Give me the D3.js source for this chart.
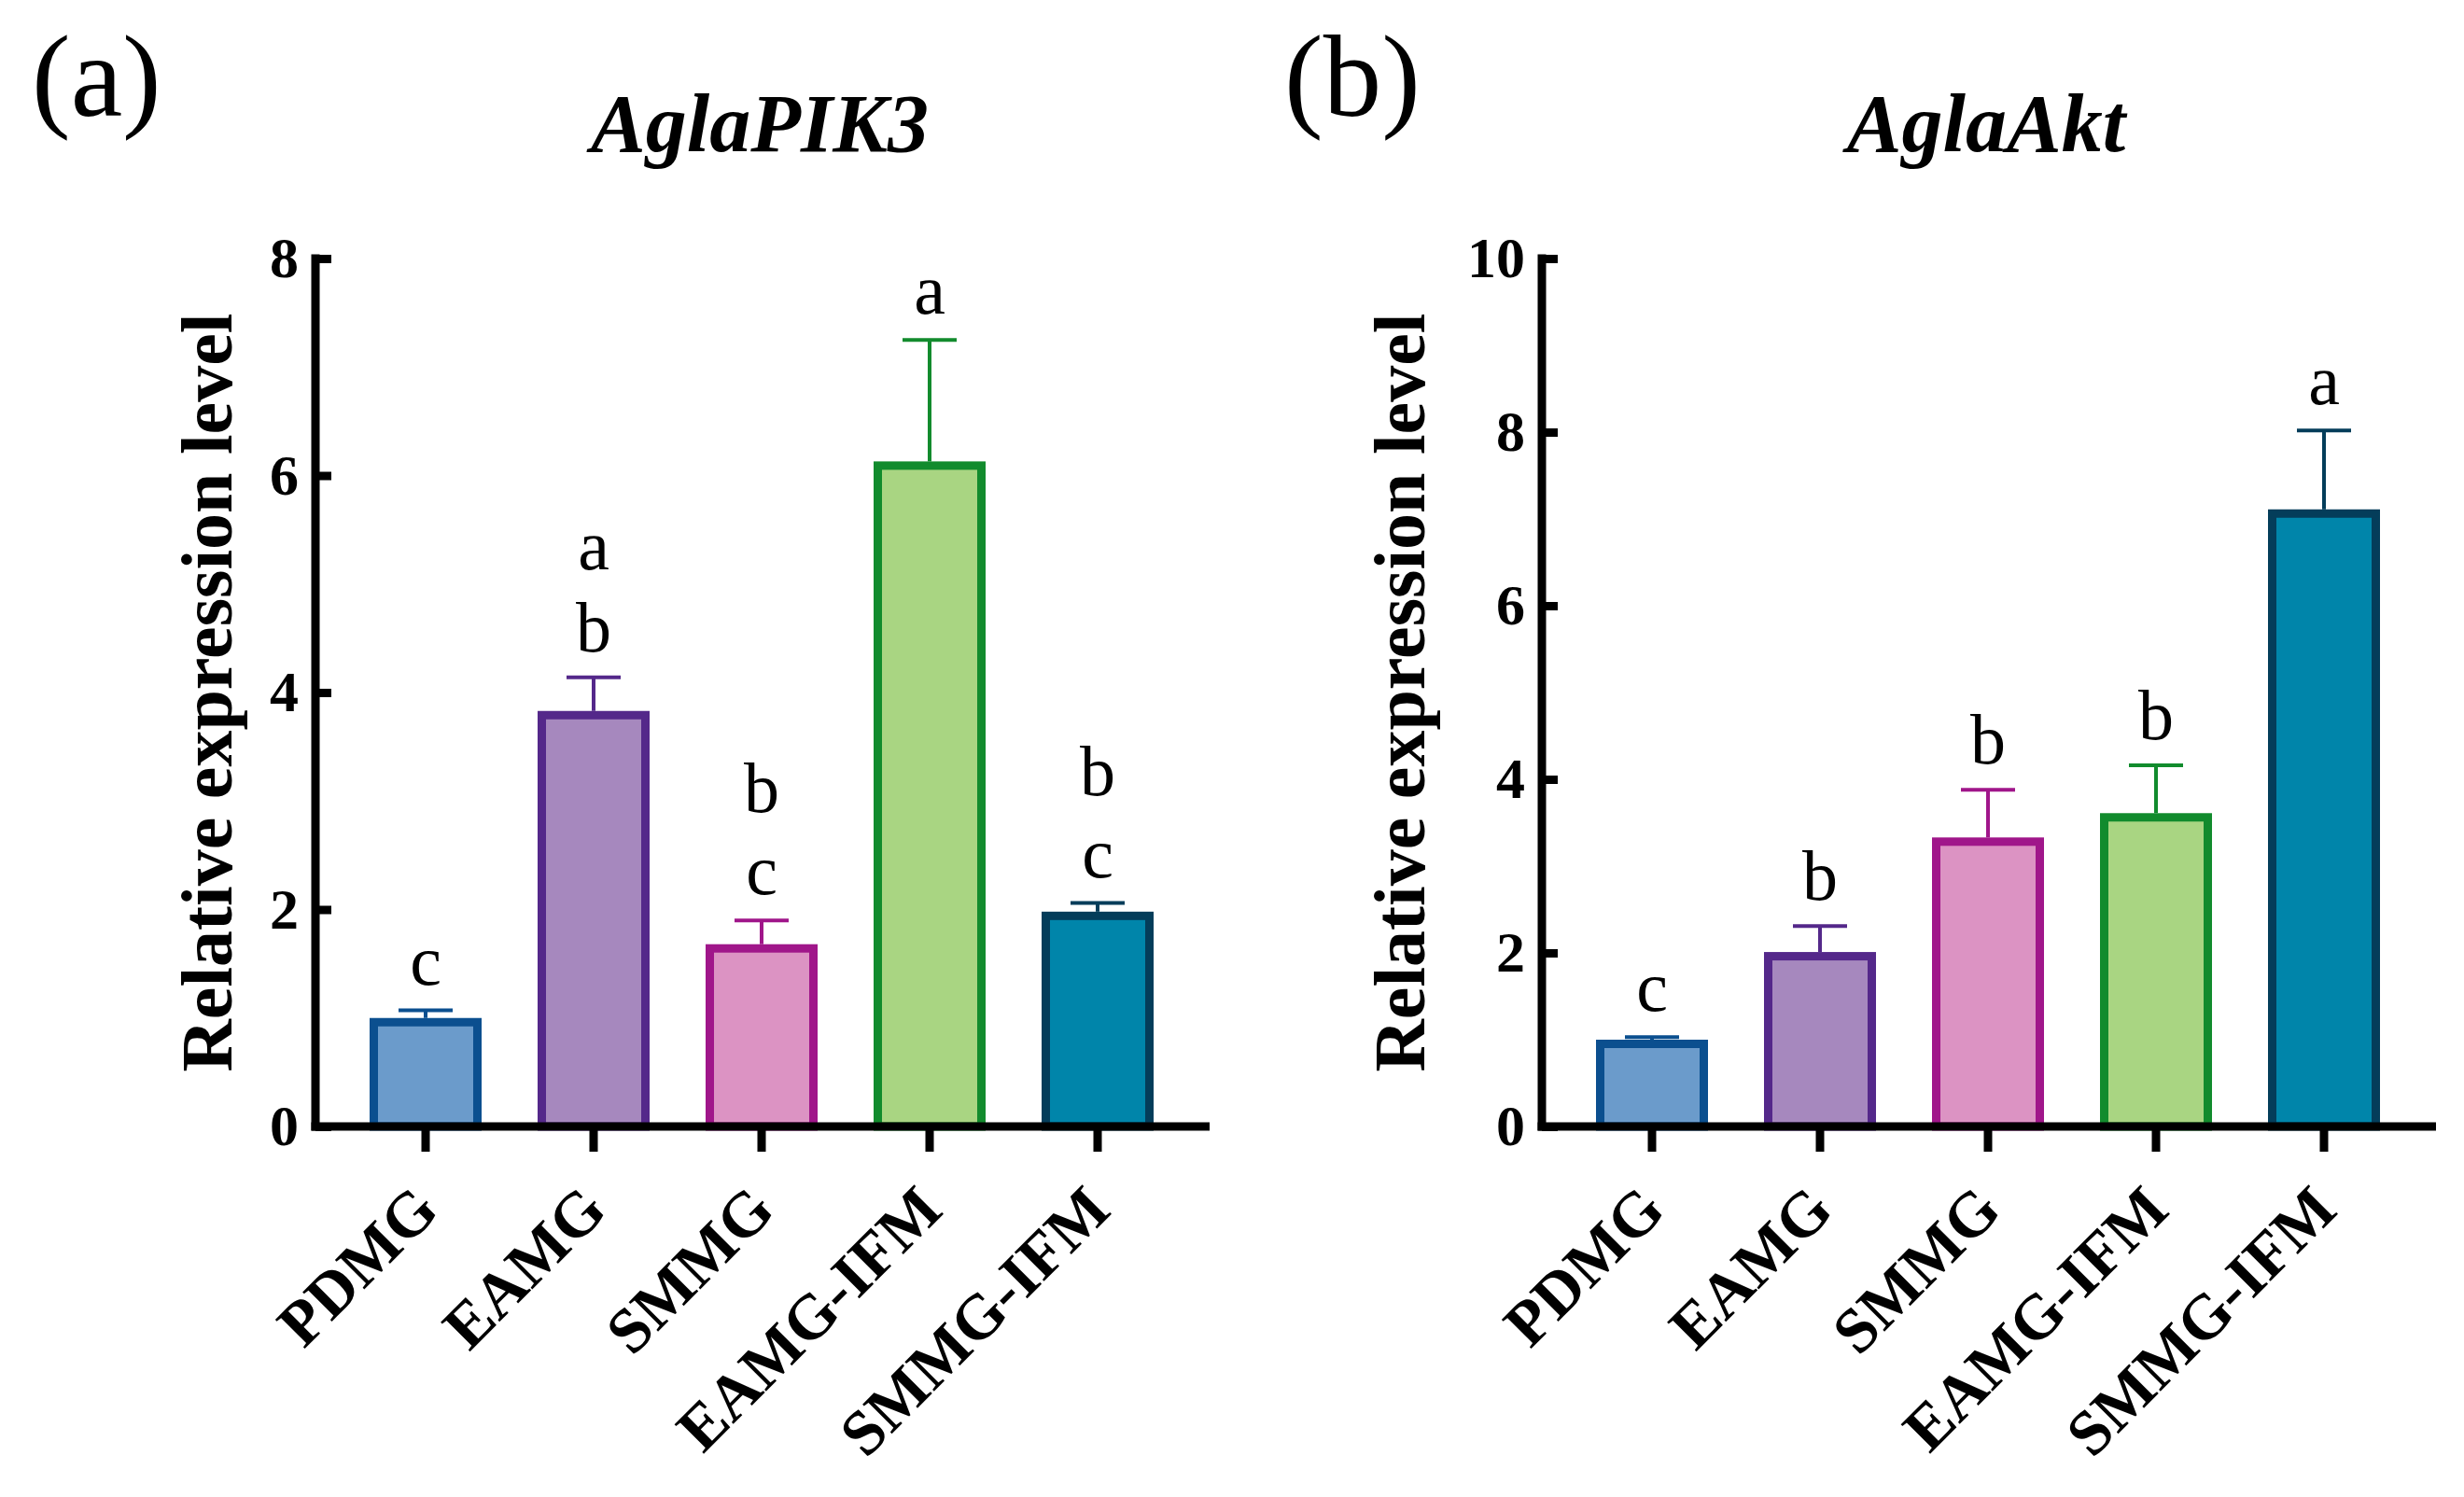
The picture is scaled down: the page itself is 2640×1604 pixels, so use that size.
<!DOCTYPE html>
<html>
<head>
<meta charset="utf-8">
<script src="https://cdn.jsdelivr.net/npm/d3@7"></script>
<style>
  body { margin: 0; background: #fff; }
  svg { display: block; }
</style>
</head>
<body>
<svg width="2640" height="1604"></svg>
<script>
// groups on the x axis (same for both panels)
const groups = ['PDMG', 'EAMG', 'SMMG', 'EAMG-IFM', 'SMMG-IFM'];

// panel (a) AglaPIK3
const pik3Mean = [1.0, 3.83, 1.68, 6.13, 1.98];
const pik3Err = [0.07, 0.31, 0.22, 1.12, 0.08];
const pik3Letters = [['c'], ['b', 'a'], ['c', 'b'], ['a'], ['c', 'b']];
const pik3Ticks = [0, 2, 4, 6, 8];

// panel (b) AglaAkt
const aktMean = [1.0, 2.01, 3.33, 3.61, 7.11];
const aktErr = [0.03, 0.30, 0.55, 0.55, 0.91];
const aktLetters = [['c'], ['b'], ['b'], ['b'], ['a']];
const aktTicks = [0, 2, 4, 6, 8, 10];

const fills = ['#6b9bcb', '#a688be', '#dc93c3', '#a9d582', '#0085aa'];
const strokes = ['#0b4f8f', '#54288a', '#a0168a', '#128b2d', '#043d5a'];

const svg = d3.select('svg');
const serif = '"Liberation Serif", "Times New Roman", serif';

const yTop = 277;
const yBottom = 1207;
const lineW = 9;
const barStroke = 9;

function drawPanel(p) {
    const x = d3.scaleBand()
        .domain(groups)
        .range([p.axisX + 28, p.axisX + 928])
        .paddingInner(1 / 3)
        .paddingOuter(1 / 6);

    const y = d3.scaleLinear()
        .domain([0, d3.max(p.ticks)])
        .range([yBottom, yTop]);

    const data = groups.map((g, i) => ({
        g: g, mean: p.mean[i], err: p.err[i], letters: p.letters[i],
        fill: fills[i], stroke: strokes[i]
    }));

    // panel tag and title
    svg.append('text')
        .attr('x', p.tagX)
        .attr('y', 124)
        .attr('font-family', serif)
        .attr('font-size', 125)
        .text(p.tag);

    svg.append('text')
        .attr('x', p.axisX + 476)
        .attr('y', 162)
        .attr('text-anchor', 'middle')
        .attr('font-family', serif)
        .attr('font-size', 88)
        .attr('font-weight', 'bold')
        .attr('font-style', 'italic')
        .text(p.title);

    // bars
    svg.append('g')
        .selectAll('rect')
        .data(data)
        .join('rect')
        .attr('x', d => x(d.g) + barStroke / 2)
        .attr('y', d => y(d.mean) + barStroke / 2)
        .attr('width', x.bandwidth() - barStroke)
        .attr('height', d => y(0) - y(d.mean) - barStroke / 2)
        .attr('fill', d => d.fill)
        .attr('stroke', d => d.stroke)
        .attr('stroke-width', barStroke);

    // error bars (upper only)
    const eb = svg.append('g')
        .selectAll('g')
        .data(data)
        .join('g')
        .attr('stroke', d => d.stroke)
        .attr('stroke-width', 4);

    eb.append('line')
        .attr('x1', d => x(d.g) + x.bandwidth() / 2)
        .attr('x2', d => x(d.g) + x.bandwidth() / 2)
        .attr('y1', d => y(d.mean))
        .attr('y2', d => y(d.mean + d.err));

    eb.append('line')
        .attr('x1', d => x(d.g) + x.bandwidth() / 2 - 29)
        .attr('x2', d => x(d.g) + x.bandwidth() / 2 + 29)
        .attr('y1', d => y(d.mean + d.err))
        .attr('y2', d => y(d.mean + d.err));

    // significance letters, stacked upward
    data.forEach(d => {
        d.letters.forEach((l, k) => {
            svg.append('text')
                .attr('x', x(d.g) + x.bandwidth() / 2)
                .attr('y', y(d.mean + d.err) - 28 - k * 88)
                .attr('text-anchor', 'middle')
                .attr('font-family', serif)
                .attr('font-size', 76)
                .text(l);
        });
    });

    // y axis, ticks pointing inward
    const yAxis = svg.append('g')
        .attr('transform', `translate(${p.axisX},0)`)
        .call(d3.axisLeft(y).tickValues(p.ticks).tickSizeInner(-17).tickSizeOuter(0).tickPadding(18));
    yAxis.select('.domain').remove();
    yAxis.selectAll('.tick line')
        .attr('stroke', '#000')
        .attr('stroke-width', lineW);
    yAxis.selectAll('.tick text')
        .attr('font-family', serif)
        .attr('font-size', 62)
        .attr('font-weight', 'bold')
        .attr('fill', '#000');

    svg.append('line')
        .attr('x1', p.axisX)
        .attr('x2', p.axisX)
        .attr('y1', y(d3.max(p.ticks)) - lineW / 2)
        .attr('y2', y(0) + lineW / 2)
        .attr('stroke', '#000')
        .attr('stroke-width', lineW);

    // x axis
    const xAxis = svg.append('g')
        .attr('transform', `translate(0,${y(0)})`)
        .call(d3.axisBottom(x).tickSizeInner(27).tickSizeOuter(0));
    xAxis.select('.domain').remove();
    xAxis.selectAll('.tick line')
        .attr('stroke', '#000')
        .attr('stroke-width', lineW);
    xAxis.selectAll('.tick text')
        .attr('y', 0)
        .attr('x', 0)
        .attr('dy', '0.34em')
        .attr('transform', 'translate(0,76) rotate(-45)')
        .attr('text-anchor', 'end')
        .attr('font-family', serif)
        .attr('font-size', 68)
        .attr('font-weight', 'bold')
        .attr('fill', '#000');

    svg.append('line')
        .attr('x1', p.axisX - lineW / 2)
        .attr('x2', p.axisX + 958)
        .attr('y1', y(0))
        .attr('y2', y(0))
        .attr('stroke', '#000')
        .attr('stroke-width', lineW);

    // y title
    svg.append('text')
        .attr('transform', `translate(${p.axisX - p.yTitleDx},${(yTop + yBottom) / 2}) rotate(-90)`)
        .attr('text-anchor', 'middle')
        .attr('font-family', serif)
        .attr('font-size', 78)
        .attr('font-weight', 'bold')
        .text('Relative expression level');
}

drawPanel({
    tag: '(a)', tagX: 34, title: 'AglaPIK3', axisX: 338, yTitleDx: 90,
    mean: pik3Mean, err: pik3Err, letters: pik3Letters, ticks: pik3Ticks
});

drawPanel({
    tag: '(b)', tagX: 1376, title: 'AglaAkt', axisX: 1652, yTitleDx: 126,
    mean: aktMean, err: aktErr, letters: aktLetters, ticks: aktTicks
});
</script>
</body>
</html>
